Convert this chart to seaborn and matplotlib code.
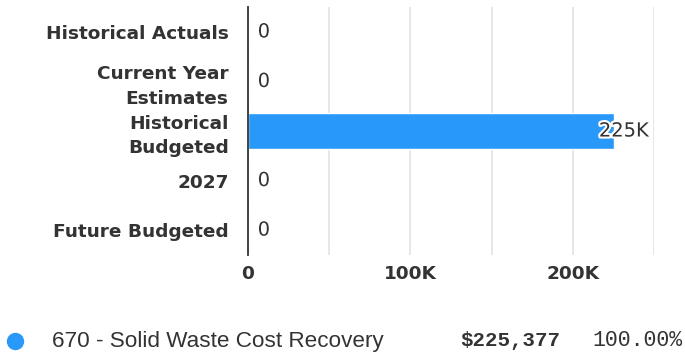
import numpy as np
import pandas as pd
import seaborn as sns
import matplotlib.pyplot as plt
import matplotlib.patheffects as pe
from matplotlib.lines import Line2D
from matplotlib.ticker import FuncFormatter

# chart data
categories = ["Historical Actuals", "Current Year\nEstimates", "Historical\nBudgeted", "2027", "Future Budgeted"]
values = [0, 0, 225377, 0, 0]
value_labels = ["0", "0", "225K", "0", "0"]
legend_name = "670 - Solid Waste Cost Recovery"
legend_total = "$225,377"
legend_share = "100.00%"
bar_color = "#2899F8"

sns.set_style("white")
plt.rcParams['font.family'] = ['DejaVu Sans']

df = pd.DataFrame({"category": categories, "value": values})

fig = plt.figure(figsize=(6.85, 3.58), dpi=100)
ax = fig.add_axes([0.362, 0.288, 0.593, 0.692])

sns.barplot(data=df, x="value", y="category", color=bar_color, saturation=1,
            width=0.73, ax=ax, zorder=3)

ax.set_xlim(0, 250000)
ax.set_xticks([0, 100000, 200000])
ax.set_xticks([0, 50000, 100000, 150000, 200000, 250000], minor=True)
ax.xaxis.set_major_formatter(FuncFormatter(lambda v, p: "0" if v == 0 else f"{int(v/1000)}K"))
ax.grid(axis="x", which="both", color="#e3e3e3", linewidth=1.2, zorder=0)
ax.set_axisbelow(True)
ax.tick_params(axis="y", which="both", length=0, pad=14)
ax.tick_params(axis="x", which="both", length=0, pad=7)
for lab in ax.get_xticklabels() + ax.get_yticklabels():
    lab.set_fontweight("bold")
    lab.set_fontsize(13.3)
    lab.set_color("#333333")
    lab.set_linespacing(1.45)
ax.set_xlabel("")
ax.set_ylabel("")
for s in ["top", "right", "bottom"]:
    ax.spines[s].set_visible(False)
ax.spines["left"].set_color("#333333")
ax.spines["left"].set_linewidth(1.3)
ax.spines["left"].set_zorder(5)

for i, (v, t) in enumerate(zip(values, value_labels)):
    off = 7 if v == 0 else -11
    ax.annotate(t, (v, i), xytext=(off, 0), textcoords="offset points", ha="left", va="center",
                fontsize=14, color="#333333", zorder=6,
                path_effects=[pe.withStroke(linewidth=3, foreground="white")])

# legend row
fig.add_artist(Line2D([15 / 685], [1 - 341 / 358], marker="o", markersize=11.5, color=bar_color,
                      linestyle="none", transform=fig.transFigure))
fig.text(52 / 685, 1 - 341 / 358, legend_name, fontsize=16.2, color="#333333", va="center",
         family=["Liberation Sans", "DejaVu Sans"])
fig.text(560 / 685, 1 - 341 / 358, legend_total, fontsize=15, color="#333333", va="center", ha="right",
         fontweight="bold", family=["Liberation Mono", "DejaVu Sans Mono"])
fig.text(683 / 685, 1 - 341 / 358, legend_share, fontsize=15.5, color="#333333", va="center", ha="right",
         family=["Liberation Mono", "DejaVu Sans Mono"])

fig.savefig("out.png", dpi=100)
